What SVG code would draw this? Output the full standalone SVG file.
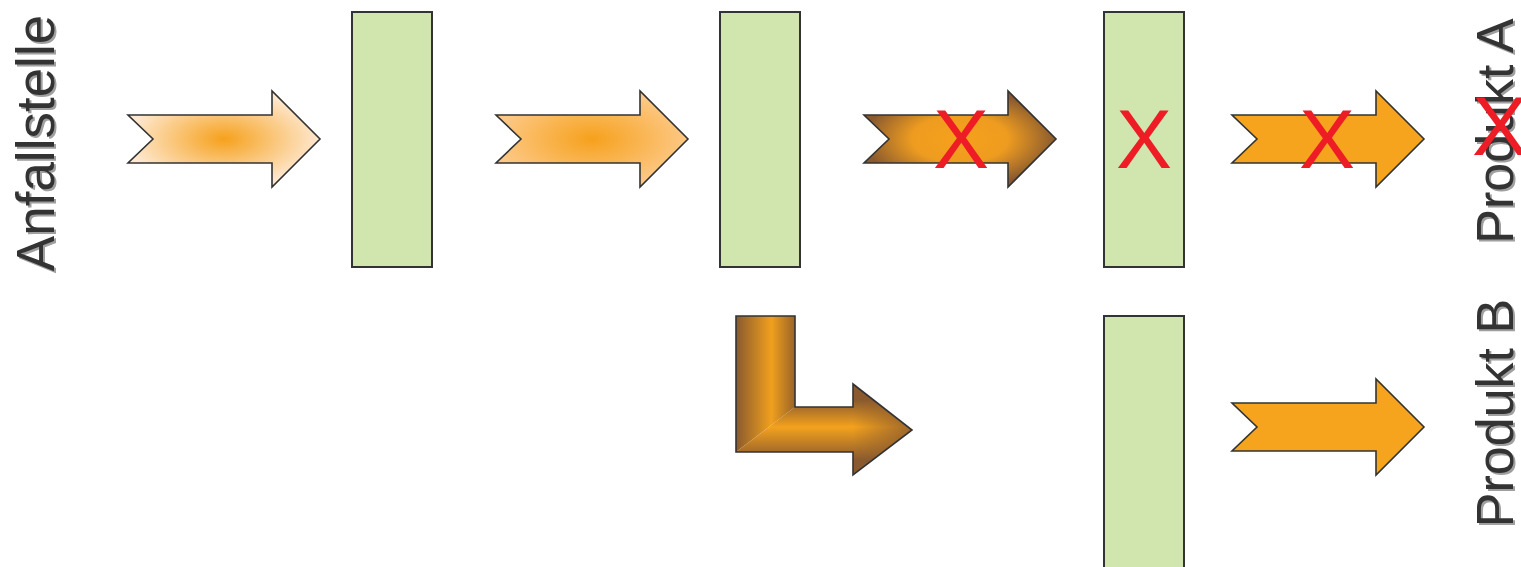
<svg xmlns="http://www.w3.org/2000/svg" width="1521" height="567" viewBox="0 0 1521 567">
<style>
.box{fill:#d1e5ae;stroke:#333;stroke-width:2}
.arr{stroke:#333;stroke-width:1.6;stroke-linejoin:miter}
.lbl{font-family:"Liberation Sans",Arial,sans-serif;fill:#333;text-anchor:middle}
.sh{fill:#a0a0a0}
.x{font-family:"Liberation Sans",Arial,sans-serif;fill:#ee1c25;text-anchor:middle;font-size:84px}
</style>
<defs>
<radialGradient id="g1" cx="0.5" cy="0.5" r="0.5">
<stop offset="0" stop-color="#f6a11c"/>
<stop offset="1" stop-color="#fee8d0"/>
</radialGradient>
<radialGradient id="g2" cx="0.5" cy="0.5" r="0.5">
<stop offset="0" stop-color="#f6a11c"/>
<stop offset="1" stop-color="#fdc885"/>
</radialGradient>
<radialGradient id="g3" cx="0.5" cy="0.5" r="0.5">
<stop offset="0" stop-color="#f6a11c"/>
<stop offset="0.5" stop-color="#ee9c20"/>
<stop offset="1" stop-color="#8a5a2e"/>
</radialGradient>
<linearGradient id="gv" x1="736" y1="0" x2="795" y2="0" gradientUnits="userSpaceOnUse">
<stop offset="0" stop-color="#8a5a2e"/>
<stop offset="0.6" stop-color="#f0a01e"/>
<stop offset="1" stop-color="#9a6428"/>
</linearGradient>
<linearGradient id="gh" x1="0" y1="400" x2="0" y2="460" gradientUnits="userSpaceOnUse">
<stop offset="0" stop-color="#8a5a2e"/>
<stop offset="0.45" stop-color="#f4a21d"/>
<stop offset="1" stop-color="#8a5a2e"/>
</linearGradient>
<linearGradient id="ghx" x1="853" y1="0" x2="912" y2="0" gradientUnits="userSpaceOnUse">
<stop offset="0" stop-color="#8a5a2e" stop-opacity="0"/>
<stop offset="1" stop-color="#8a5a2e" stop-opacity="0.8"/>
</linearGradient>
<clipPath id="lclip">
<polygon points="736,316 795,316 795,407 853,407 853,384 912,430 853,475 853,452 736,452"/>
</clipPath>
</defs>

<g id="label-anfallstelle">
<text class="lbl sh" font-size="53" transform="translate(56,145) rotate(-90)">Anfallstelle</text>
<text class="lbl" font-size="53" transform="translate(54,143) rotate(-90)">Anfallstelle</text>
</g>

<g id="stage1"><rect class="box" x="352" y="12" width="80" height="255"/></g>
<g id="stage2"><rect class="box" x="720" y="12" width="80" height="255"/></g>
<g id="stage3"><rect class="box" x="1104" y="12" width="80" height="255"/>
<text class="x" x="1144" y="168">X</text></g>
<g id="stage4"><rect class="box" x="1104" y="316" width="80" height="260"/></g>

<g id="connectors">
<polygon class="arr" fill="url(#g1)" points="128,115 272,115 272,91 320,139 272,187 272,163 128,163 153,139"/>
<polygon class="arr" fill="url(#g2)" points="496,115 640,115 640,91 688,139 640,187 640,163 496,163 521,139"/>
<polygon class="arr" fill="url(#g3)" points="864,115 1008,115 1008,91 1056,139 1008,187 1008,163 864,163 889,139"/>
<text class="x" x="961" y="168">X</text>
<polygon class="arr" fill="#f6a31d" points="1232,115 1376,115 1376,91 1424,139 1376,187 1376,163 1232,163 1257,139"/>
<text class="x" x="1327" y="168">X</text>
<polygon class="arr" fill="#f6a31d" points="1232,403 1376,403 1376,379 1424,427 1376,475 1376,451 1232,451 1257,427"/>
<g id="l-arrow">
<g clip-path="url(#lclip)">
<polygon fill="url(#gh)" points="736,452 795,407 853,407 853,380 920,380 920,480 736,480"/>
<polygon fill="url(#ghx)" points="853,380 920,380 920,480 853,480"/>
<polygon fill="url(#gv)" points="730,310 800,310 795,407 736,452 730,452"/>
</g>
<polygon class="arr" fill="none" points="736,316 795,316 795,407 853,407 853,384 912,430 853,475 853,452 736,452"/>
</g>
</g>

<g id="label-produkt-a">
<text class="lbl sh" font-size="52" transform="translate(1515,133) rotate(-90)">Produkt A</text>
<text class="lbl" font-size="52" transform="translate(1513,131) rotate(-90)">Produkt A</text>
<text class="x" font-size="78" x="1500" y="155">X</text>
</g>
<g id="label-produkt-b">
<text class="lbl sh" font-size="52" transform="translate(1515,415) rotate(-90)">Produkt B</text>
<text class="lbl" font-size="52" transform="translate(1513,413) rotate(-90)">Produkt B</text>
</g>
</svg>
